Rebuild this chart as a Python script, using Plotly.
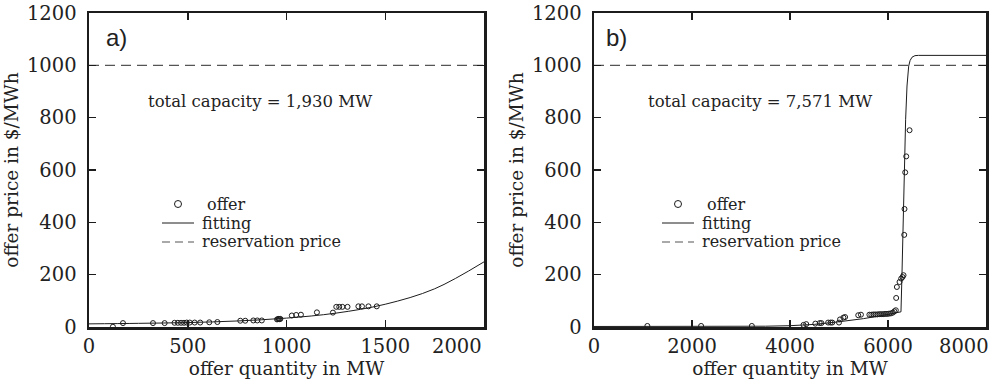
import plotly.graph_objects as go

# ---------------- data ----------------
# panel a)
offer_a_q = [121, 172, 324, 383, 433, 450, 466, 481, 495, 510, 535, 563, 609, 650,
             766, 791, 832, 852, 875, 952, 957, 961, 965, 969,
             1027, 1049, 1073, 1154, 1235, 1252, 1267, 1283, 1309, 1364, 1382, 1415, 1457]
offer_a_p = [1, 15, 15, 15, 16, 16, 16, 16, 17, 17, 17, 17, 18, 19,
             24, 24, 25, 25, 25, 29, 30, 31, 30, 31,
             44, 46, 47, 56, 55, 77, 77, 77, 77, 79, 79, 79, 79]
fit_a_q = [0, 250, 500, 750, 1000, 1250, 1500, 1750, 2000]
fit_a_p = [12, 14, 17, 23, 34, 53, 87, 146, 249]

# panel b)
offer_b_q = [1089, 2186, 3221, 4276, 4331, 4517, 4607, 4641, 4779, 4828, 4862, 5000,
             5021, 5090, 5124, 5393, 5448,
             5620, 5660, 5700, 5740, 5780, 5820, 5860, 5900, 5940, 5980, 6020, 6060,
             6100, 6130, 6160, 6167, 6181, 6235, 6269, 6297, 6317,
             6331, 6337, 6351, 6372, 6440]
offer_b_p = [4, 4, 4, 8, 11, 13, 15, 15, 17, 17, 17, 17,
             29, 36, 38, 45, 47,
             47, 47, 48, 48, 48, 49, 49, 49, 50, 50, 51, 52,
             55, 60, 64, 111, 153, 172, 185, 191, 198,
             352, 451, 591, 652, 752]
fit_b_q = [0, 1000, 2000, 3000, 3500, 4000, 4500, 5000, 5500, 6000, 6265, 6285,
           6333, 6360, 6388, 6422, 6450, 6490, 6550, 6620, 8000]
fit_b_p = [2, 2, 2, 2, 3, 5, 10, 20, 32, 48, 58, 198,
           604, 794, 921, 997, 1018, 1031, 1037, 1038, 1038]

reservation_price = 1000
x_max = [2000, 8000]
x_ticks = [[0, 500, 1000, 1500, 2000], [0, 2000, 4000, 6000, 8000]]
y_ticks = [0, 200, 400, 600, 800, 1000, 1200]
capacity_labels = ["total capacity = 1,930 MW", "total capacity = 7,571 MW"]
panel_labels = ["a)", "b)"]
legend_names = ["offer", "fitting", "reservation price"]
x_title = "offer quantity in MW"
y_title = "offer price in $/MWh"

# ---------------- figure ----------------
INK = "#1c1c1c"
SERIF = "DejaVu Serif"
W, H = 994, 380
L, R, T, B = 89, 8, 13, 53
pw, ph = W - L - R, H - T - B


def px(x):  # pixel -> paper x
    return (x - L) / pw


def py(y):  # pixel -> paper y
    return (H - B - y) / ph


fig = go.Figure()
panels = [
    (offer_a_q, offer_a_p, fit_a_q, fit_a_p, "x", "y"),
    (offer_b_q, offer_b_p, fit_b_q, fit_b_p, "x2", "y2"),
]
for i, (oq, op, fq, fp, xa, ya) in enumerate(panels):
    fig.add_trace(go.Scatter(
        x=[0, x_max[i]], y=[reservation_price, reservation_price], mode="lines",
        name=legend_names[2], xaxis=xa, yaxis=ya, showlegend=False, hoverinfo="skip",
        line=dict(color="#555555", width=1.2, dash="10px,6px")))
    fig.add_trace(go.Scatter(
        x=fq, y=fp, mode="lines", name=legend_names[1], xaxis=xa, yaxis=ya, showlegend=False,
        hoverinfo="skip", line=dict(color=INK, width=1, shape="spline" if i == 0 else "linear")))
    fig.add_trace(go.Scatter(
        x=oq, y=op, mode="markers", name=legend_names[0], xaxis=xa, yaxis=ya, showlegend=False,
        hoverinfo="skip",
        marker=dict(symbol="circle-open", size=5, color=INK, line=dict(width=1, color=INK))))


def tick_text(vals):
    # the last label is drawn right-aligned to the frame (see annotations below)
    out = [str(v) for v in vals]
    out[-1] = ""
    return out


tick_font = dict(family=SERIF, size=19.5, color="#222")
axis_common = dict(
    showline=True, linecolor=INK, linewidth=2.5, mirror="ticks",
    ticks="inside", ticklen=7, tickwidth=1.5, tickcolor=INK,
    showgrid=False, zeroline=False, automargin=False, fixedrange=True,
    tickfont=tick_font,
)
title_font = dict(family=SERIF, size=18.5, color="#222")

dom_a = [0, px(484)]
dom_b = [px(594), 1]

fig.update_layout(
    width=W, height=H, autosize=False,
    margin=dict(l=L, r=R, t=T, b=B, autoexpand=False),
    paper_bgcolor="white", plot_bgcolor="white",
    showlegend=False, hovermode=False,
    xaxis=dict(axis_common, domain=dom_a, range=[0, x_max[0]], tickvals=x_ticks[0],
               ticktext=tick_text(x_ticks[0]),
               title=dict(text=x_title, font=title_font, standoff=4), anchor="y"),
    yaxis=dict(axis_common, domain=[0, 1], range=[0, 1200], tickvals=y_ticks,
               title=dict(text=y_title, font=title_font, standoff=4), anchor="x",
               ticklabelstandoff=6),
    xaxis2=dict(axis_common, domain=dom_b, range=[0, x_max[1]], tickvals=x_ticks[1],
                ticktext=tick_text(x_ticks[1]),
                title=dict(text=x_title, font=title_font, standoff=4), anchor="y2"),
    yaxis2=dict(axis_common, domain=[0, 1], range=[0, 1200], tickvals=y_ticks,
                title=dict(text=y_title, font=title_font, standoff=4), anchor="x2",
                ticklabelstandoff=6),
)

legend_font = dict(family=SERIF, size=16, color="#222")
last_label_right = [484, 991]
for i, (xr, yr) in enumerate([("x", "y"), ("x2", "y2")]):
    dx = 0 if i == 0 else 500
    # last x tick label, kept inside the frame as in the original
    fig.add_annotation(text=str(x_ticks[i][-1]), xref="paper", yref="paper",
                       x=px(last_label_right[i]), y=py(346), xanchor="right", yanchor="middle",
                       showarrow=False, font=tick_font)
    fig.add_annotation(text=capacity_labels[i], xref="paper", yref="paper",
                       x=px(260 + dx), y=py(101), xanchor="center", yanchor="middle",
                       showarrow=False, font=dict(family=SERIF, size=16.5, color="#222"))
    fig.add_annotation(text=panel_labels[i], xref="paper", yref="paper",
                       x=px(104 + dx), y=py(38), xanchor="left", yanchor="middle",
                       showarrow=False, font=dict(family="Liberation Sans", size=24, color="#222"))
    # legend (drawn by hand for the compact row spacing of the original)
    fig.add_shape(type="circle", xref="paper", yref="paper",
                  xsizemode="pixel", ysizemode="pixel",
                  xanchor=px(178 + dx), yanchor=py(204), x0=-3.5, x1=3.5, y0=-3.5, y1=3.5,
                  line=dict(color=INK, width=1))
    fig.add_shape(type="line", xref="paper", yref="paper",
                  x0=px(162 + dx), x1=px(194 + dx), y0=py(223), y1=py(223),
                  line=dict(color=INK, width=1))
    fig.add_shape(type="line", xref="paper", yref="paper",
                  x0=px(162 + dx), x1=px(194 + dx), y0=py(242), y1=py(242),
                  line=dict(color="#555555", width=1.2, dash="8px,5px"))
    for name, xx, yy in [(legend_names[0], 205, 204), (legend_names[1], 200, 223),
                         (legend_names[2], 200, 242)]:
        fig.add_annotation(text=name, xref="paper", yref="paper",
                           x=px(xx + dx), y=py(yy), xanchor="left", yanchor="middle",
                           showarrow=False, font=legend_font)

fig.write_html("out.html", config={"displayModeBar": False, "staticPlot": True},
               post_script="document.body.style.margin='0';")
